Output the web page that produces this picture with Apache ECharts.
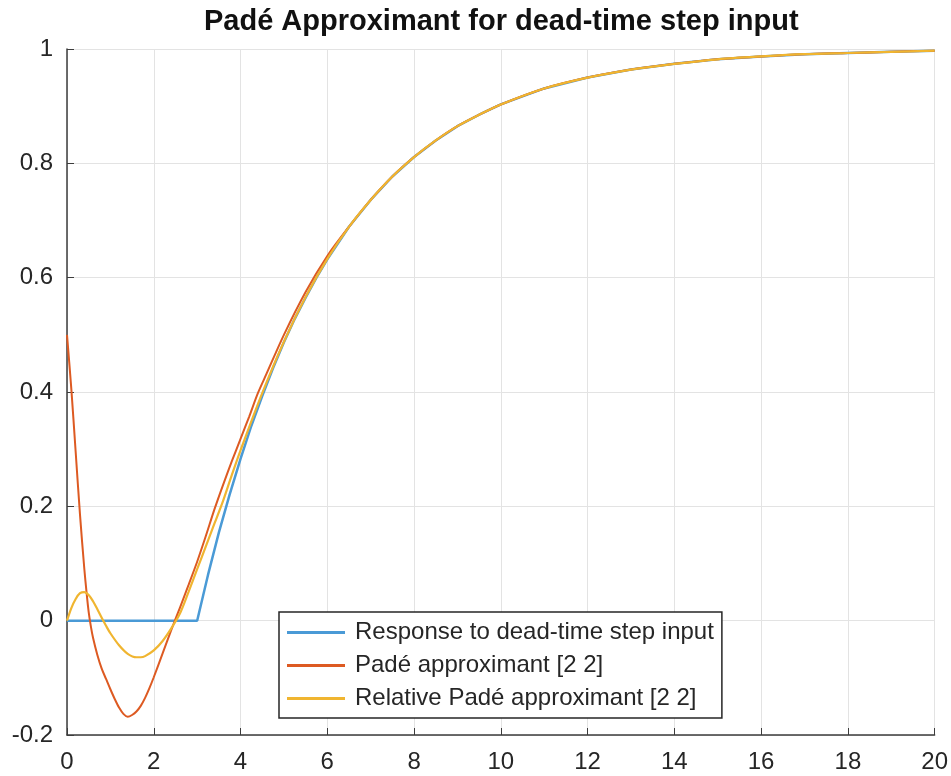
<!DOCTYPE html>
<html>
<head>
	<meta charset="UTF-8">
	<title>Padé Approximant</title>
	<script src="https://cdn.jsdelivr.net/npm/echarts@6/dist/echarts.min.js"></script>
	<style>
		html, body { margin: 0; padding: 0; background: #fff; }
		#chart { width: 951px; height: 776px; }
	</style>
</head>
<body>
<div id="chart"></div>
<script>
// tail shared by all three curves once they merge (t >= 6.5)
var tailT = [6.5, 7, 7.5, 8, 8.5, 9, 9.5, 10, 11, 12, 13, 14, 15, 16, 17, 18, 19, 20];
var tailY = [0.689, 0.736, 0.777, 0.811, 0.840, 0.865, 0.885, 0.903, 0.931, 0.950, 0.964, 0.974, 0.982, 0.987, 0.991, 0.993, 0.995, 0.997];

// Response to dead-time step input
var stepT = [0, 3, 3.25, 3.5, 3.75, 4, 4.25, 4.5, 4.75, 5, 5.25, 5.5, 5.75, 6];
var stepY = [0, 0, 0.080, 0.154, 0.221, 0.283, 0.341, 0.393, 0.442, 0.487, 0.528, 0.565, 0.600, 0.632];

// Padé approximant [2 2]
var padeT = [0, 0.1, 0.2, 0.3, 0.4, 0.45, 0.5, 0.55, 0.6, 0.7, 0.8, 0.9, 1.0, 1.1, 1.2, 1.3, 1.4, 1.5, 1.6, 1.7, 1.8, 1.9, 2.0, 2.2, 2.4, 2.6, 2.8, 3.0, 3.2, 3.4, 3.6, 3.8, 4.0, 4.2, 4.4, 4.6, 5.0, 5.5, 6.0];
var padeY = [0.5, 0.405, 0.295, 0.185, 0.09, 0.05, 0.015, -0.01, -0.03, -0.06, -0.084, -0.102, -0.120, -0.137, -0.152, -0.163, -0.168, -0.165, -0.159, -0.149, -0.135, -0.118, -0.099, -0.058, -0.017, 0.022, 0.062, 0.103, 0.148, 0.195, 0.238, 0.279, 0.318, 0.357, 0.398, 0.432, 0.500, 0.575, 0.638];

// Relative Padé approximant [2 2]
var relT = [0, 0.1, 0.2, 0.3, 0.4, 0.5, 0.6, 0.7, 0.8, 0.9, 1.0, 1.2, 1.4, 1.6, 1.7, 1.8, 2.0, 2.2, 2.4, 2.6, 2.8, 3.0, 3.2, 3.4, 3.6, 3.8, 4.0, 4.5, 5.0, 5.5, 6.0];
var relY = [0, 0.022, 0.038, 0.048, 0.050, 0.045, 0.034, 0.020, 0.005, -0.009, -0.022, -0.043, -0.058, -0.064, -0.064, -0.062, -0.052, -0.036, -0.014, 0.012, 0.050, 0.090, 0.130, 0.170, 0.210, 0.255, 0.298, 0.398, 0.488, 0.566, 0.633];

var names = ['Response to dead-time step input', 'Padé approximant [2 2]', 'Relative Padé approximant [2 2]'];
var colors = ['#4a9ad6', '#dd5a22', '#f0b530'];
var xTicks = [0, 20, 2];
var yTicks = [-0.2, 1, 0.2];

function pairs(t, y){
	var out = [];
	for (var i = 0; i < t.length; i++) out.push([t[i], y[i]]);
	for (var j = 0; j < tailT.length; j++) out.push([tailT[j], tailY[j]]);
	return out;
}

var chart = echarts.init(document.getElementById('chart'));
var axisCol = '#3c3c3c';
var txtCol = '#262626';
var font = 'Liberation Sans';

var option = {
	animation: false,
	title: {
		text: 'Padé Approximant for dead-time step input',
		left: 204,
		top: 7,
		padding: 0,
		textStyle: { fontFamily: font, fontSize: 29, fontWeight: 'bold', color: '#111' }
	},
	grid: { left: 67, right: 16, top: 49, bottom: 41 },
	xAxis: {
		type: 'value',
		min: xTicks[0], max: xTicks[1], interval: xTicks[2],
		axisLine: { show: true, onZero: false, lineStyle: { color: axisCol, width: 1.5 } },
		axisTick: { show: true, inside: true, length: 7, lineStyle: { color: axisCol } },
		axisLabel: { color: txtCol, fontSize: 24, fontFamily: font, margin: 15 },
		splitLine: { show: true, lineStyle: { color: '#e3e3e3', width: 1 } }
	},
	yAxis: {
		type: 'value',
		min: yTicks[0], max: yTicks[1], interval: yTicks[2],
		axisLine: { show: true, onZero: false, lineStyle: { color: axisCol, width: 1.5 } },
		axisTick: { show: true, inside: true, length: 7, lineStyle: { color: axisCol } },
		axisLabel: {
			color: txtCol, fontSize: 24, fontFamily: font, margin: 14,
			formatter: function(v){ return String(Math.round(v * 10) / 10); }
		},
		splitLine: { show: true, lineStyle: { color: '#e3e3e3', width: 1 } }
	},
	legend: {
		data: names,
		orient: 'vertical',
		left: 279,
		top: 612,
		padding: [7, 8, 6, 8],
		itemGap: 6,
		itemWidth: 58,
		itemHeight: 3,
		icon: 'rect',
		borderColor: '#262626',
		borderWidth: 1.5,
		borderRadius: 0,
		backgroundColor: '#fff',
		textStyle: { color: txtCol, fontSize: 24, lineHeight: 27, fontFamily: font, padding: [0, 0, 0, 5] }
	},
	series: [
		{ name: names[0], type: 'line', symbol: 'none', data: pairs(stepT, stepY), lineStyle: { color: colors[0], width: 2.5 }, itemStyle: { color: colors[0] }, z: 2 },
		{ name: names[1], type: 'line', symbol: 'none', smooth: 0.3, data: pairs(padeT, padeY), lineStyle: { color: colors[1], width: 2 }, itemStyle: { color: colors[1] }, z: 3 },
		{ name: names[2], type: 'line', symbol: 'none', smooth: 0.3, data: pairs(relT, relY), lineStyle: { color: colors[2], width: 2.2 }, itemStyle: { color: colors[2] }, z: 4 }
	]
};
chart.setOption(option);
</script>
</body>
</html>
